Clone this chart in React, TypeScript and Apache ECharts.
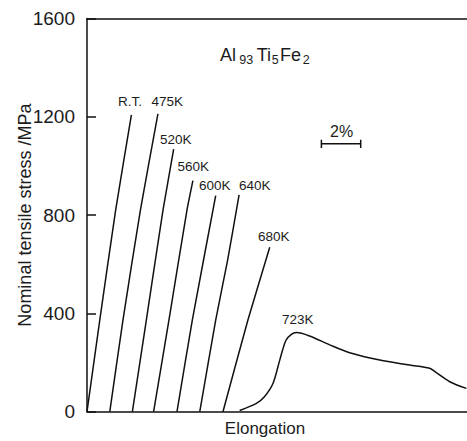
import React, { useEffect, useRef } from "react";
import * as echarts from "echarts";

// strain (%) , nominal tensile stress (MPa)
const curveRT = [[0, 0], [0.65, 373], [1.46, 821], [2.26, 1208]];
const curve475 = [[1.16, 0], [1.83, 373], [2.72, 821], [3.61, 1212]];
const curve520 = [[2.31, 0], [3.02, 373], [3.87, 821], [4.41, 1068]];
const curve560 = [[3.39, 0], [4.17, 373], [5.09, 821], [5.39, 940]];
const curve600 = [[4.58, 0], [5.36, 373], [6.55, 879]];
const curve640 = [[5.74, 0], [6.55, 373], [7.16, 618], [7.74, 882]];
const curve680 = [[6.92, 0], [8.19, 373], [9.3, 669]];
const curve723 = [
  [7.77, 5], [8.62, 34], [9.03, 61], [9.47, 116], [9.81, 210], [10.12, 290],
  [10.4, 315], [10.66, 322], [11.33, 308], [12.35, 272], [13.37, 240],
  [14.9, 210], [16.42, 190], [17.44, 177], [17.78, 159], [18.46, 122], [19.31, 95],
];
const scaleBar = [[11.93, 1090], [13.93, 1090]];
const scaleTickL = [[11.93, 1073], [11.93, 1107]];
const scaleTickR = [[13.93, 1073], [13.93, 1107]];
const yTicks = [0, 400, 800, 1200, 1600];

const FONT = "'Liberation Sans', Arial, Helvetica, sans-serif";
const INK = "#1c1c1c";

export default function App() {
  const ref = useRef<HTMLDivElement>(null);
  useEffect(() => {
    document.body.style.margin = "0";
    const chart = echarts.init(ref.current!, null, { renderer: "svg" });
    const lineSeries = (data: number[][], smooth: number | boolean = 0.15) => ({
      type: "line",
      data,
      smooth,
      showSymbol: false,
      symbol: "none",
      lineStyle: { color: "#111", width: 1.5 },
      silent: true,
    });
    const txt = (text: string, x: number, y: number, size: number) => ({
      type: "text",
      x,
      y,
      style: {
        text,
        fill: INK,
        font: `${size}px ${FONT}`,
        textAlign: "left",
        textVerticalAlign: "middle",
      },
    });
    chart.setOption({
      animation: false,
      backgroundColor: "#fff",
      grid: { left: 87, right: 0, top: 18.5, bottom: 29.3, containLabel: false, outerBoundsMode: "none" },
      xAxis: [
        {
          type: "value",
          min: 0,
          max: 19.34,
          position: "bottom",
          name: "Elongation",
          nameLocation: "middle",
          nameGap: 8,
          nameMoveOverlap: false,
          nameTextStyle: { fontSize: 17, color: INK, fontFamily: FONT, verticalAlign: "top", padding: [0, 24, 0, 0] },
          axisLine: { show: true, lineStyle: { color: "#111", width: 1.5 } },
          axisTick: { show: false },
          axisLabel: { show: false },
          splitLine: { show: false },
        },
        {
          type: "value",
          min: 0,
          max: 19.34,
          position: "top",
          axisLine: { show: true, lineStyle: { color: "#111", width: 1.5 } },
          axisTick: { show: false },
          axisLabel: { show: false },
          splitLine: { show: false },
        },
      ],
      yAxis: {
        type: "value",
        min: yTicks[0],
        max: yTicks[yTicks.length - 1],
        interval: 400,
        name: "Nominal tensile stress /MPa",
        nameLocation: "middle",
        nameGap: 53,
        nameMoveOverlap: false,
        nameTextStyle: { fontSize: 18, color: INK, fontFamily: FONT },
        axisLine: { show: true, lineStyle: { color: "#111", width: 1.5 } },
        axisTick: { show: true, inside: true, length: 9, lineStyle: { color: "#111", width: 1.5 } },
        axisLabel: { fontSize: 19, color: INK, fontFamily: FONT, margin: 12, formatter: (v: number) => String(v) },
        splitLine: { show: false },
      },
      series: [
        lineSeries(curveRT),
        lineSeries(curve475),
        lineSeries(curve520),
        lineSeries(curve560),
        lineSeries(curve600),
        lineSeries(curve640),
        lineSeries(curve680),
        lineSeries(curve723, 0.3),
        lineSeries(scaleBar, false),
        lineSeries(scaleTickL, false),
        lineSeries(scaleTickR, false),
      ],
      graphic: [
        txt("R.T.", 118, 101, 13.5),
        txt("475K", 151.5, 101, 13.5),
        txt("520K", 160, 139.5, 13.5),
        txt("560K", 177.5, 166.7, 13.5),
        txt("600K", 199, 185.5, 13.5),
        txt("640K", 239, 185.5, 13.5),
        txt("680K", 258, 236, 13.5),
        txt("723K", 282, 319, 13.5),
        txt("2%", 330, 131.7, 16),
        txt("Al", 220, 55, 18),
        txt("93", 239.3, 60, 12.5),
        txt("Ti", 256.7, 55, 18),
        txt("5", 271.7, 60, 12.5),
        txt("Fe", 280, 55, 18),
        txt("2", 302.7, 60, 12.5),
      ],
    });
    return () => chart.dispose();
  }, []);
  return <div ref={ref} style={{ width: 467, height: 441 }} />;
}
